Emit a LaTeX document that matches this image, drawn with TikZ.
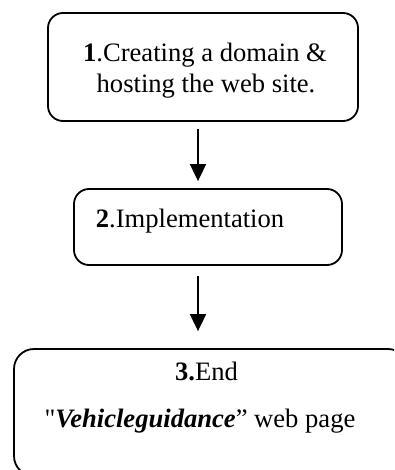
\documentclass[tikz,border=0pt]{standalone}
\usepackage{fontspec}
\setmainfont{Liberation Serif}
\newfontfamily\plainq{Liberation Serif}[Ligatures=ResetAll]
\usetikzlibrary{arrows.meta}
\tikzset{
  stepbox/.style={draw, line width=1.8pt, rectangle, rounded corners=15pt, inner sep=0pt},
  lbl/.style={anchor=base, inner sep=0pt, font=\fontsize{26.6}{31}\selectfont},
  arr/.style={line width=1.8pt, -{Triangle[width=16pt,length=17pt]}}
}
\begin{document}
\begin{tikzpicture}[x=1pt,y=-1pt]
\useasboundingbox (0,0) rectangle (394,470);
\clip (0,0) rectangle (394,470);
\node[stepbox, minimum width=310pt, minimum height=108pt] (b1) at (203,67) {};
\node[stepbox, minimum width=268pt, minimum height=76pt] (b2) at (208,227) {};
\node[stepbox, rounded corners=20pt, minimum width=394pt, minimum height=127pt] (b3) at (211,412.5) {};
\node[lbl] (t1a) at (205,62) {\textbf{1}.Creating a domain \&};
\node[lbl] (t1b) at (206,93) {hosting the web site.};
\node[lbl] (t2) at (190,227) {\textbf{2}.Implementation};
\node[lbl] (t3a) at (206.5,380) {\textbf{3.}End};
\node[lbl] (t3b) at (200,427) {{\plainq "}\textbf{\textit{Vehicleguidance}}” web page};
\draw[arr] ([xshift=-5pt,yshift=-7pt]b1.south) -- ([xshift=-10pt,yshift=7pt]b2.north);
\draw[arr] ([xshift=-10pt,yshift=-10pt]b2.south) -- ([xshift=-13pt,yshift=17pt]b3.north);
\end{tikzpicture}
\end{document}
